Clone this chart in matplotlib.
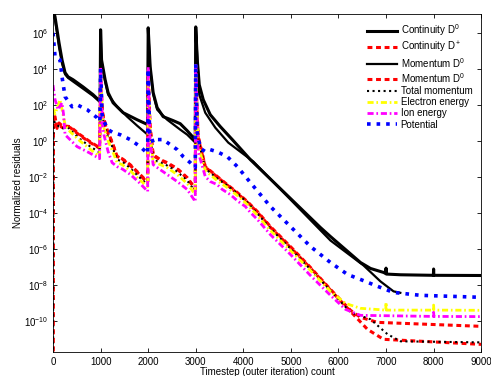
import matplotlib
matplotlib.use("Agg")
import matplotlib.pyplot as plt
import numpy as np

plt.rcParams['font.family'] = ['Liberation Sans', 'DejaVu Sans']
plt.rcParams['mathtext.default'] = 'regular'

# values: timestep and log10(residual)
cont_d0_step = [0, 42, 84, 126, 189, 253, 316, 421, 632, 842, 990,
                1000, 1020, 1095, 1158, 1263, 1474, 1768, 1990,
                2000, 2042, 2105, 2189, 2316, 2526, 2674, 2821, 2990,
                3000, 3032, 3074, 3158, 3305, 3516, 3768, 4147, 5621, 5832, 6463, 6674, 6947,
                6995, 7000, 7005, 7305, 7995, 8000, 8005, 9000]
cont_d0_exp = [7.3, 6.89, 6.17, 5.45, 4.5, 3.79, 3.56, 3.4, 3.0, 2.57, 2.2,
               6.17, 4.5, 3.4, 2.68, 2.12, 1.57, 1.18, 0.91,
               6.28, 4.12, 2.68, 1.85, 1.35, 1.13, 0.96, 0.57, 0.07,
               6.33, 4.5, 3.12, 2.29, 1.46, 0.8, 0.08, -1.03, -4.8, -5.3, -6.74, -7.07, -7.29,
               -7.35, -7.05, -7.38, -7.42, -7.45, -7.1, -7.45, -7.46]

cont_dp_step = [0, 8, 42, 84, 126, 189, 358, 568, 779, 979,
                1000, 1040, 1074, 1158, 1242, 1347, 1453, 1621, 1789, 1937, 1990,
                2000, 2040, 2105, 2253, 2400, 2611, 2821, 2990,
                3000, 3050, 3200, 3453, 3663, 3874, 4084, 4295, 4568, 4989, 5411, 5832, 6253, 6463, 6821, 9000]
cont_dp_exp = [-14, 1.5, 1.35, 0.7, 1.0, 0.85, 0.8, 0.35, -0.04, -0.37,
               3.5, 1.6, 1.18, 0.46, -0.04, -0.87, -0.98, -1.31, -1.75, -2.14, -2.25,
               3.6, 0.8, -0.76, -1.03, -1.2, -1.53, -2.03, -2.64,
               3.7, 0.3, -1.42, -1.97, -2.42, -2.86, -3.36, -3.91, -4.74, -5.85, -7.01, -8.23, -9.39, -9.78, -10.06, -10.28]

mom_d0_step = [0, 42, 84, 126, 189, 253, 316, 421, 632, 842, 990,
               1000, 1020, 1095, 1158, 1347, 1558, 1768, 1990,
               2000, 2042, 2105, 2189, 2400, 2674, 2821, 2990,
               3000, 3074, 3200, 3411, 3684, 4211, 5832, 6526, 6884, 7158, 7300]
mom_d0_exp = [7.3, 6.7, 6.0, 5.2, 4.3, 3.7, 3.5, 3.3, 2.9, 2.5, 2.15,
              6.1, 4.4, 3.3, 2.57, 1.9, 1.35, 0.85, 0.35,
              6.2, 4.0, 2.6, 1.74, 1.18, 0.63, 0.35, -0.09,
              6.3, 2.57, 1.57, 0.74, -0.09, -1.14, -5.52, -6.9, -7.79, -8.34, -8.42]

mom_red_step = [0, 8, 42, 84, 126, 189, 358, 568, 779, 979,
                1000, 1040, 1074, 1158, 1242, 1347, 1453, 1621, 1789, 1937, 1990,
                2000, 2040, 2105, 2253, 2400, 2611, 2821, 2990,
                3000, 3050, 3200, 3453, 3663, 3874, 4084, 4295, 4568, 4989, 5411, 5832, 6253, 6611, 6947, 9000]
mom_red_exp = [-14, 1.3, 1.2, 0.8, 0.9, 0.75, 0.75, 0.3, -0.08, -0.4,
               3.3, 1.5, 1.1, 0.4, -0.1, -0.85, -1.0, -1.35, -1.78, -2.18, -2.28,
               3.4, 0.7, -0.8, -1.05, -1.24, -1.56, -2.06, -2.68,
               3.5, 0.2, -1.45, -2.0, -2.45, -2.9, -3.4, -3.95, -4.78, -5.9, -7.05, -8.27, -9.45, -10.45, -11.0, -11.28]

tot_mom_step = [0, 8, 42, 126, 189, 316, 568, 779, 979,
                1000, 1040, 1074, 1158, 1242, 1347, 1453, 1621, 1789, 1937, 1990,
                2000, 2040, 2105, 2253, 2400, 2611, 2821, 2990,
                3000, 3050, 3200, 3453, 3663, 3874, 4084, 4295, 4568, 4989, 5411, 5832, 6253, 6674, 7032, 7305, 9000]
tot_mom_exp = [-14, 1.2, 1.0, 0.8, 0.7, 0.74, 0.1, -0.3, -0.64,
               3.6, 1.4, 0.9, 0.2, -0.3, -1.03, -1.14, -1.5, -1.95, -2.3, -2.42,
               3.7, 0.6, -1.03, -1.2, -1.36, -1.7, -2.2, -2.8,
               3.8, 0.1, -1.53, -2.08, -2.47, -2.91, -3.41, -4.02, -4.85, -5.96, -7.12, -8.29, -9.5, -9.89, -10.72, -11.11, -11.17]

elec_step = [0, 42, 147, 200, 253, 358, 568, 779, 979,
             1000, 1040, 1074, 1158, 1242, 1347, 1453, 1621, 1789, 1937, 1990,
             2000, 2040, 2105, 2253, 2400, 2611, 2821, 2990,
             3000, 3050, 3200, 3453, 3663, 3874, 4084, 4295, 4568, 4989, 5411, 5832, 6148, 6463,
             6995, 7000, 7005, 7995, 8000, 8005, 9000]
elec_exp = [1.8, 1.5, 2.29, 1.6, 0.9, 0.52, 0.0, -0.45, -0.87,
            4.0, 1.2, 0.7, 0.0, -0.5, -1.2, -1.31, -1.64, -2.08, -2.42, -2.53,
            4.0, 0.4, -1.14, -1.31, -1.48, -1.86, -2.36, -2.97,
            4.2, -0.2, -1.64, -2.2, -2.58, -3.02, -3.52, -4.13, -4.96, -6.07, -7.18, -8.34, -9.01, -9.28,
            -9.38, -8.95, -9.38, -9.38, -9.1, -9.38, -9.39]

ion_step = [0, 42, 105, 189, 220, 253, 505, 760, 979,
            1000, 1040, 1074, 1158, 1242, 1347, 1453, 1621, 1789, 1937, 1990,
            2000, 2040, 2105, 2253, 2400, 2611, 2821, 2990,
            3000, 3050, 3200, 3305, 3453, 3558, 3726, 3895, 4042, 4147, 4295, 4568, 4989, 5411, 5832, 6148, 6463,
            7995, 8000, 8005, 9000]
ion_exp = [3.1, 2.3, 1.74, 2.12, 1.5, 0.35, -0.31, -0.65, -0.98,
           4.1, 0.9, 0.3, -0.59, -1.2, -1.42, -1.55, -1.85, -2.25, -2.65, -2.8,
           4.1, 0.0, -1.31, -1.59, -1.86, -2.25, -2.69, -3.36,
           4.3, -0.6, -1.97, -2.25, -2.42, -2.69, -2.97, -3.36, -3.63, -3.96, -4.35, -5.19, -6.29, -7.46, -8.56, -9.34, -9.67,
           -9.73, -9.5, -9.73, -9.74]

pot_step = [0, 42, 147, 189, 253, 400, 505, 716, 926, 985,
            1000, 1030, 1053, 1158, 1263, 1411, 1621, 1832, 1990,
            2000, 2030, 2105, 2189, 2316, 2463, 2611, 2737, 2884, 2990,
            3000, 3030, 3095, 3200, 3305, 3453, 3663, 3874, 4147, 4568, 4989, 5411, 5832, 6189, 6463, 6821, 7158, 7726, 9000]
pot_exp = [6.0, 4.67, 4.5, 3.56, 2.46, 1.9, 2.01, 1.74, 1.29, 1.07,
           4.0, 1.5, 1.18, 0.63, 0.46, 0.35, 0.08, -0.31, -0.7,
           4.0, 0.5, -0.09, 0.08, 0.08, -0.2, -0.48, -0.87, -1.2, -1.48,
           4.3, 0.5, -0.4, -0.59, -0.48, -0.6, -0.87, -1.42, -2.3, -3.63, -4.74, -5.85, -6.74, -7.4, -7.68, -8.06, -8.4, -8.56, -8.67]

labels = ["Continuity D$^0$", "Continuity D$^+$", "Momentum D$^0$", "Momentum D$^0$",
          "Total momentum", "Electron energy", "Ion energy", "Potential"]

fig = plt.figure(figsize=(4.91, 3.76), dpi=100)
ax = fig.add_axes([0.108, 0.064, 0.872, 0.899])

dash = (0, (1.6, 1.2))
dashdot = (0, (2.2, 1.0, 0.6, 1.0))
ax.semilogy(cont_d0_step, 10.0 ** np.array(cont_d0_exp), color='k', lw=2.2, label=labels[0])
ax.semilogy(cont_dp_step, 10.0 ** np.array(cont_dp_exp), color='red', lw=2.2, ls=dash, label=labels[1])
ax.semilogy(mom_d0_step, 10.0 ** np.array(mom_d0_exp), color='k', lw=1.6, label=labels[2])
ax.semilogy(mom_red_step, 10.0 ** np.array(mom_red_exp), color='red', lw=2.2, ls=dash, label=labels[3])
ax.semilogy(tot_mom_step, 10.0 ** np.array(tot_mom_exp), color='k', lw=1.5, ls=':', label=labels[4])
ax.semilogy(elec_step, 10.0 ** np.array(elec_exp), color='yellow', lw=2.0, ls=dashdot, label=labels[5])
ax.semilogy(ion_step, 10.0 ** np.array(ion_exp), color='magenta', lw=2.0, ls=dashdot, label=labels[6])
ax.semilogy(pot_step, 10.0 ** np.array(pot_exp), color='blue', lw=2.6, ls=':', label=labels[7])

ax.set_xlim(0, 9000)
ax.set_ylim(10 ** -11.7, 10 ** 7.05)
ax.set_xticks(np.arange(0, 9001, 1000))
ax.set_yticks(10.0 ** np.arange(-10, 7, 2))
ax.yaxis.set_minor_locator(matplotlib.ticker.NullLocator())
ax.tick_params(direction='in', top=True, right=True, labelsize=7, length=3, width=0.6)
for s in ax.spines.values():
    s.set_linewidth(0.6)

ax.set_xlabel("Timestep (outer iteration) count", fontsize=7, labelpad=0)
ax.set_ylabel("Normalized residuals", fontsize=7, labelpad=0.5)

ax.legend(loc='upper right', frameon=False, fontsize=7, handlelength=3.1,
          labelspacing=0.12, handletextpad=0.4, borderaxespad=0.5)

plt.savefig("out.png", dpi=100)
